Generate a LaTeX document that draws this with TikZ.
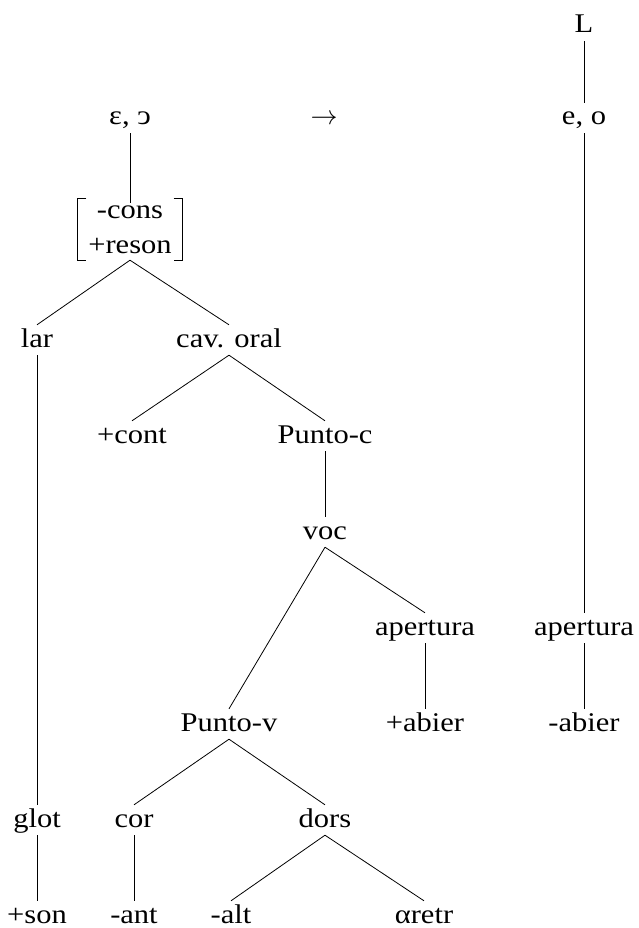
\RequirePackage{fix-cm}
\documentclass[tikz,border=0pt]{standalone}
\usepackage{fontspec}
\usepackage{graphicx}
\setmainfont{Liberation Serif}[FakeStretch=1.13]
\begin{document}
\begin{tikzpicture}[x=1pt,y=-1pt,
  every node/.style={font=\fontsize{27}{35}\selectfont, inner sep=0pt},
  lbl/.style={anchor=base, text height=22pt, text depth=8pt},
  edge/.style={line width=0.8pt}]
\useasboundingbox (0,0) rectangle (638,928);
% top row
\node[lbl] (L) at (584,33) {L};
\node[lbl] (eps) at (130,125) {ε, \reflectbox{c}};
\node[lbl] (arr) at (324,125) {$\rightarrow$};
\node[lbl] (eo) at (584,125) {e, o};
% bracket box
\node[align=center, minimum width=105pt, minimum height=61pt] (box) at (130,229.5) {-cons\\+reson};
\draw[edge] ([xshift=9pt]box.north west) -- (box.north west) -- (box.south west) -- ([xshift=9pt]box.south west);
\draw[edge] ([xshift=-9pt]box.north east) -- (box.north east) -- (box.south east) -- ([xshift=-9pt]box.south east);
% tree nodes
\node[lbl] (lar) at (37,347) {lar};
\node[lbl] (cav) at (229,347) {cav. oral};
\node[lbl] (cont) at (132,443) {+cont};
\node[lbl] (pc) at (325,443) {Punto-c};
\node[lbl] (voc) at (325,539) {voc};
\node[lbl] (apE) at (425,635) {apertura};
\node[lbl] (apF) at (584,635) {apertura};
\node[lbl] (pv) at (229,731) {Punto-v};
\node[lbl] (abE) at (425,731) {+abier};
\node[lbl] (abF) at (584,731) {-abier};
\node[lbl] (glot) at (37,827) {glot};
\node[lbl] (cor) at (134,827) {cor};
\node[lbl] (dors) at (325,827) {dors};
\node[lbl] (son) at (37,923) {+son};
\node[lbl] (ant) at (134,923) {-ant};
\node[lbl] (alt) at (231,923) {-alt};
\node[lbl] (retr) at (424,923) {αretr};
% edges
\draw[edge] (L.south) -- (eo.north);
\draw[edge] (eps.south) -- ([yshift=-4pt]box.north);
\draw[edge] (box.south) -- (lar.north);
\draw[edge] (box.south) -- (cav.north);
\draw[edge] (lar.south) -- (glot.north);
\draw[edge] (glot.south) -- (son.north);
\draw[edge] (cav.south) -- (cont.north);
\draw[edge] (cav.south) -- (pc.north);
\draw[edge] (pc.south) -- (voc.north);
\draw[edge] (voc.south) -- (pv.north);
\draw[edge] (voc.south) -- (apE.north);
\draw[edge] (apE.south) -- (abE.north);
\draw[edge] (pv.south) -- (cor.north);
\draw[edge] (pv.south) -- (dors.north);
\draw[edge] (cor.south) -- (ant.north);
\draw[edge] (dors.south) -- (alt.north);
\draw[edge] (dors.south) -- (retr.north);
\draw[edge] (eo.south) -- (apF.north);
\draw[edge] (apF.south) -- (abF.north);
\end{tikzpicture}
\end{document}
